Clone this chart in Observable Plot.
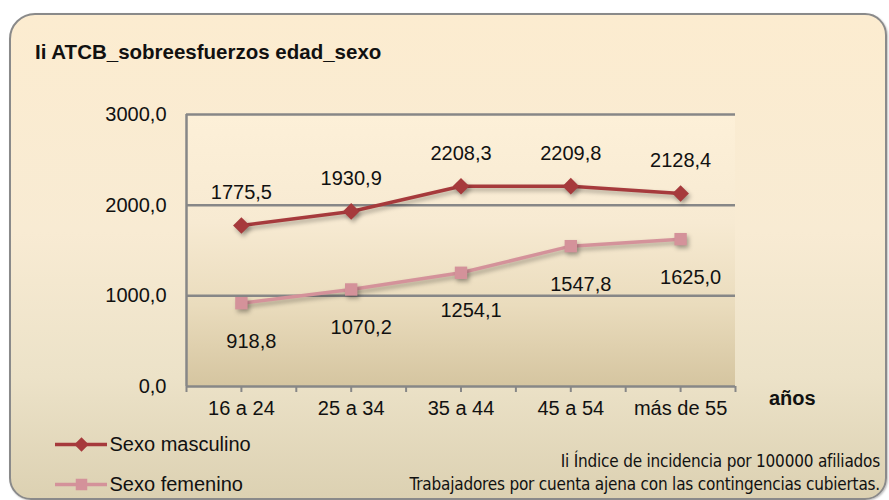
<!DOCTYPE html>
<html>
<head>
<meta charset="utf-8">
<script src="https://cdn.jsdelivr.net/npm/d3@7"></script>
<script src="https://cdn.jsdelivr.net/npm/@observablehq/plot@0.6"></script>
<style>
  html, body { margin: 0; padding: 0; background: #ffffff; }
  #wrap { position: relative; width: 889px; height: 500px; overflow: hidden; font-family: "Liberation Sans", Arial, sans-serif; }
  #card { position: absolute; left: 9px; top: 13px; width: 874px; height: 483px;
    border: 2px solid #8a8a8a; border-radius: 26px 22px 22px 22px;
    background: linear-gradient(to bottom, #fcecd0 0%, #f8ebd3 45%, #ece2c8 75%, #dcd1b2 100%);
    box-shadow: 1px 1px 2px rgba(0,0,0,0.25); }
  #plotbg { position: absolute; left: 186px; top: 114px; width: 549px; height: 272px;
    background: linear-gradient(to bottom, #fdf0d8 0%, #f7ead2 40%, #eadcbd 70%, #d5c5a0 100%); }
  #title { position: absolute; left: 35px; top: 40px; font-size: 20.5px; font-weight: bold; color: #111; letter-spacing: 0px; }
  #anos { position: absolute; left: 769px; top: 387px; font-size: 20px; font-weight: bold; color: #111; }
  .foot { position: absolute; right: 9px; font-family: "DejaVu Sans Condensed", "Liberation Sans", sans-serif; font-size: 17px; color: #111; white-space: nowrap; letter-spacing: -0.2px; }
  #plot { position: absolute; left: 0; top: 0; }
  #legend { position: absolute; left: 55px; top: 424px; }
  .plotsvg g[aria-label="line"] path { filter: drop-shadow(2px 3px 2px rgba(0,0,0,0.3)); }
  .plotsvg g[aria-label="dot"] path { filter: drop-shadow(2px 3px 2px rgba(0,0,0,0.3)); }
</style>
</head>
<body>
<div id="wrap">
  <div id="card"></div>
  <div id="plotbg"></div>
  <div id="title">Ii ATCB_sobreesfuerzos edad_sexo</div>
  <div id="anos">años</div>
  <div class="foot" style="top:451px;">Ii Índice de incidencia por 100000 afiliados</div>
  <div class="foot" style="top:474px;">Trabajadores por cuenta ajena con las contingencias cubiertas.</div>
  <div id="plot"></div>
  <div id="legend"></div>
</div>
<script>
const categories = ["16 a 24", "25 a 34", "35 a 44", "45 a 54", "más de 55"];
const masculino = [1775.5, 1930.9, 2208.3, 2209.8, 2128.4];
const femenino = [918.8, 1070.2, 1254.1, 1547.8, 1625.0];
const yTicks = [0, 1000, 2000, 3000];
const seriesNames = ["Sexo masculino", "Sexo femenino"];

const colMasc = "#a63a3c";
const colFem = "#d4929a";
const fmt = v => v.toFixed(1).replace(".", ",");

const rows = [];
categories.forEach((c, i) => {
  rows.push({serie: seriesNames[0], idx: i + 0.5, cat: c, value: masculino[i]});
  rows.push({serie: seriesNames[1], idx: i + 0.5, cat: c, value: femenino[i]});
});
const masc = rows.filter(d => d.serie === seriesNames[0]);
const fem = rows.filter(d => d.serie === seriesNames[1]);

const xTicks = d3.range(0, categories.length + 0.01, 0.5);
const font = "'Liberation Sans', Arial, sans-serif";

const plot = Plot.plot({
  width: 889,
  height: 500,
  marginLeft: 186,
  marginRight: 154,
  marginTop: 114,
  marginBottom: 114,
  className: "plotsvg",
  style: {background: "transparent", fontFamily: font, fontSize: "20px", color: "#111"},
  x: {domain: [0, categories.length], ticks: categories.map((c, i) => i + 0.5), tickSize: 0, tickPadding: 14,
      tickFormat: d => categories[Math.floor(d)], label: null},
  y: {domain: [0, 3000], ticks: yTicks, tickSize: 0, tickPadding: 20, tickFormat: fmt, label: null},
  marks: [
    Plot.ruleX(xTicks, {y1: 0, y2: -66, stroke: "#878787", strokeWidth: 2}),
    Plot.ruleY(yTicks, {stroke: "#878787", strokeWidth: 2.5}),
    Plot.ruleX([0], {y1: 0, y2: 3000, stroke: "#878787", strokeWidth: 2.5}),
    Plot.line(fem, {x: "idx", y: "value", stroke: colFem, strokeWidth: 3.5}),
    Plot.dot(fem, {x: "idx", y: "value", symbol: "square", fill: colFem, r: 7}),
    Plot.line(masc, {x: "idx", y: "value", stroke: colMasc, strokeWidth: 3.5}),
    Plot.dot(masc, {x: "idx", y: "value", symbol: "diamond2", fill: colMasc, r: 7.5}),
    Plot.text(masc, {x: "idx", y: "value", text: d => fmt(d.value), dy: -33, fill: "#111", fontSize: 20}),
    Plot.text(fem, {x: "idx", y: "value", text: d => fmt(d.value), dy: 38, dx: 10, fill: "#111", fontSize: 20})
  ]
});
document.getElementById("plot").appendChild(plot);

// legend drawn with Plot
const legendRows = [
  {serie: seriesNames[0], k: 0},
  {serie: seriesNames[1], k: 1}
];
const legend = Plot.plot({
  width: 260, height: 80, margin: 0,
  style: {background: "transparent", fontFamily: font, fontSize: "20px", color: "#111"},
  x: {domain: [0, 260], axis: null},
  y: {domain: [-0.5, 1.5], axis: null, reverse: true},
  color: {domain: seriesNames, range: [colMasc, colFem]},
  marks: [
    Plot.ruleY(legendRows, {y: "k", x1: 0, x2: 52, stroke: "serie", strokeWidth: 3.5}),
    Plot.dot(legendRows, {x: 26, y: "k", fill: "serie", symbol: d => d.k === 0 ? "diamond2" : "square", r: 6.5}),
    Plot.text(legendRows, {x: 54, y: "k", text: "serie", textAnchor: "start", fontSize: 20, fill: "#111"})
  ]
});
document.getElementById("legend").appendChild(legend);
</script>
</body>
</html>
